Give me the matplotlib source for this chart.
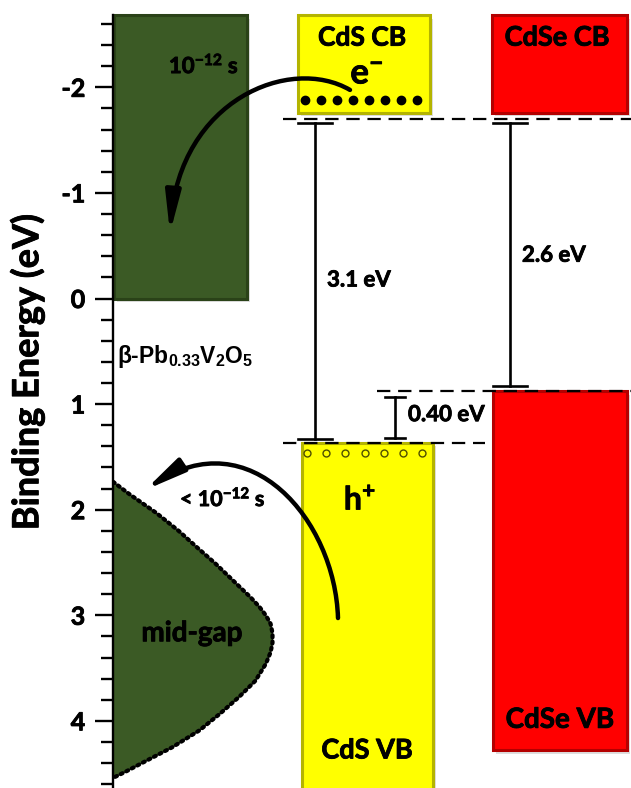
import matplotlib
matplotlib.use('Agg')
import matplotlib.pyplot as plt
import matplotlib.patheffects as pe
import numpy as np
from matplotlib.patches import Rectangle, FancyArrowPatch
from matplotlib.path import Path

plt.rcParams['font.family'] = ['Lato', 'DejaVu Sans']
plt.rcParams['font.weight'] = 'bold'
plt.rcParams['mathtext.default'] = 'regular'

# ---------------- data (binding energies, eV) ----------------
band_top = -2.68          # top of drawn bands
cb_edge = -1.70           # CdS / CdSe conduction band edge
cb_box_bottom = -1.76
pbvo_cb_bottom = 0.0      # beta-Pb0.33V2O5 conduction band bottom
cdse_vb = 0.88
cds_vb = 1.37
cdse_vb_bottom = 4.28
gap_labels = ['3.1 eV', '2.6 eV', '0.40 eV']
band_labels = ['CdS CB', 'CdSe CB', 'CdS VB', 'CdSe VB']
yticks_major = [-2, -1, 0, 1, 2, 3, 4]
# mid-gap state distribution (energy, relative density)
midgap_E = [1.735, 1.85, 2.03, 2.20, 2.35, 2.51, 2.67, 2.83, 2.92, 3.00, 3.08, 3.17,
            3.26, 3.35, 3.46, 3.62, 3.77, 3.93, 4.09, 4.25, 4.40, 4.48, 4.54]
midgap_w = [0.0, 0.10, 0.27, 0.41, 0.52, 0.64, 0.75, 0.86, 0.915, 0.955, 0.985, 0.997,
            0.997, 0.985, 0.955, 0.89, 0.79, 0.67, 0.54, 0.37, 0.18, 0.08, 0.0]

GREEN = '#3b5a25'
GREEN_EDGE = '#2a4218'
YELLOW = '#ffff00'
YELLOW_EDGE = '#b4b400'
RED = '#ff0000'
RED_EDGE = '#b40000'

THICK = [pe.withStroke(linewidth=0.6, foreground='black')]

W, H = 631, 788
fig = plt.figure(figsize=(W / 100, H / 100), dpi=100)
# pixel mapping: y_px = 298.5 + 105.6 * E
E_top = -298.5 / 105.6
E_bot = (H - 298.5) / 105.6
ax = fig.add_axes([113 / W, 0, (W - 113) / W, 1])
ax.set_xlim(113, W)
ax.set_ylim(E_bot, E_top)

for s in ['top', 'right', 'bottom']:
    ax.spines[s].set_visible(False)
ax.spines['left'].set_linewidth(1.7)
ax.spines['left'].set_bounds(band_top, E_bot)
ax.set_xticks([])
ax.set_yticks(yticks_major)
ax.set_yticklabels([str(t) for t in yticks_major])
ax.set_yticks(np.round(np.arange(-2.6, 4.61, 0.2), 1), minor=True)
ax.tick_params(axis='y', which='major', length=13, width=1.7, labelsize=18, pad=7)
ax.tick_params(axis='y', which='minor', length=9, width=1.7)
for lab in ax.get_yticklabels():
    lab.set_fontweight('bold')
    lab.set_path_effects(THICK)

fig.text(27 / W, 1 - 372 / H, 'Binding Energy (eV)', rotation=90,
         ha='center', va='center', fontsize=26, fontweight='bold', path_effects=THICK)


def box(x0, x1, e0, e1, fc, ec, z=2):
    # shadow
    ax.add_patch(Rectangle((x0 + 3, e0 + 0.03), x1 - x0, e1 - e0,
                           facecolor='#c8c8c8', edgecolor='none', alpha=0.6, zorder=z - 0.5))
    ax.add_patch(Rectangle((x0, e0), x1 - x0, e1 - e0, facecolor=fc,
                           edgecolor=ec, linewidth=2.2, zorder=z))


# bands
box(114, 247, band_top, pbvo_cb_bottom, GREEN, GREEN_EDGE)
box(298, 430, band_top, cb_box_bottom, YELLOW, YELLOW_EDGE)
box(492, 627, band_top, cb_box_bottom, RED, RED_EDGE)
box(302, 433, cds_vb, E_bot + 0.05, YELLOW, YELLOW_EDGE)
box(493, 627, cdse_vb, cdse_vb_bottom, RED, RED_EDGE)

# mid-gap states
mx = 113 + 160 * np.array(midgap_w)
ax.fill_betweenx(midgap_E, 113, mx, color=GREEN, zorder=2, linewidth=0)
ax.plot(mx, midgap_E, color='black', linewidth=3.0, linestyle=(0, (0.5, 1.0)),
        dash_capstyle='round', zorder=3)

# dashed energy levels
dash = dict(color='black', linewidth=1.6, linestyle=(0, (6, 3.5)), zorder=4)
ax.plot([283, W], [cb_edge, cb_edge], **dash)
ax.plot([377, W], [cdse_vb, cdse_vb], **dash)
ax.plot([283, 485], [cds_vb, cds_vb], **dash)


def gapbar(x, e0, e1, half):
    kw = dict(color='black', linewidth=1.9, zorder=5)
    ax.plot([x, x], [e0, e1], **kw)
    ax.plot([x - half, x + half], [e0, e0], **kw)
    ax.plot([x - half, x + half], [e1, e1], **kw)


gapbar(315, cb_edge + 0.04, cds_vb - 0.04, 17)
gapbar(510, cb_edge + 0.04, cdse_vb - 0.05, 17)
gapbar(395, cdse_vb + 0.05, cds_vb - 0.05, 10)

tkw = dict(zorder=6, path_effects=THICK)
ax.text(327, -0.175, gap_labels[0], fontsize=16, ha='left', va='center', **tkw)
ax.text(522, -0.41, gap_labels[1], fontsize=16, ha='left', va='center', **tkw)
ax.text(408, 1.10, gap_labels[2], fontsize=16, ha='left', va='center', **tkw)

# band labels
ax.text(362, -2.47, band_labels[0], fontsize=19, ha='center', va='center', **tkw)
ax.text(557, -2.47, band_labels[1], fontsize=19.5, ha='center', va='center', **tkw)
ax.text(367, 4.28, band_labels[2], fontsize=19.5, ha='center', va='center', **tkw)
ax.text(560, 3.99, band_labels[3], fontsize=20, ha='center', va='center', **tkw)

ax.text(367, -2.13, r'e$^{-}$', fontsize=25, ha='center', va='center', **tkw)
ax.text(360, 1.90, r'h$^{+}$', fontsize=23, ha='center', va='center', **tkw)

# electrons and holes
ax.plot(np.linspace(305, 417, 8), [-1.88] * 8, 'o', color='black', markersize=6, zorder=6)
ax.plot(np.linspace(307, 422, 7), [1.46] * 7, 'o', markerfacecolor='none',
        markeredgecolor='#505000', markersize=5, markeredgewidth=1.0, zorder=6)

# material labels
ax.text(117, 0.55, r'β-Pb$_{0.33}$V$_{2}$O$_{5}$', fontsize=16.5, ha='left', va='center',
        family=['Liberation Sans', 'DejaVu Sans'], fontweight='bold', zorder=6)
ax.text(192, 3.17, 'mid-gap', fontsize=20, ha='center', va='center', **tkw)
ax.text(204, -2.21, r'10$^{-12}$ s', fontsize=16, ha='center', va='center', **tkw)
ax.text(180, 1.89, r'< 10$^{-12}$ s', fontsize=15.5, ha='left', va='center', **tkw)

# transfer arrows
arrow_kw = dict(arrowstyle='-|>,head_length=2.4,head_width=0.45', mutation_scale=10,
                color='black', linewidth=3.2, shrinkA=0, shrinkB=0, zorder=7)
p1 = Path([(350, -1.975), (290, -2.306), (180, -1.88), (170, -0.62)],
          [Path.MOVETO, Path.CURVE4, Path.CURVE4, Path.CURVE4])
ax.add_patch(FancyArrowPatch(path=p1, **arrow_kw))
p2 = Path([(338, 3.026), (335, 2.098), (250, 1.149), (145, 1.814)],
          [Path.MOVETO, Path.CURVE4, Path.CURVE4, Path.CURVE4])
ax.add_patch(FancyArrowPatch(path=p2, **arrow_kw))

fig.savefig('out.png', dpi=100)
